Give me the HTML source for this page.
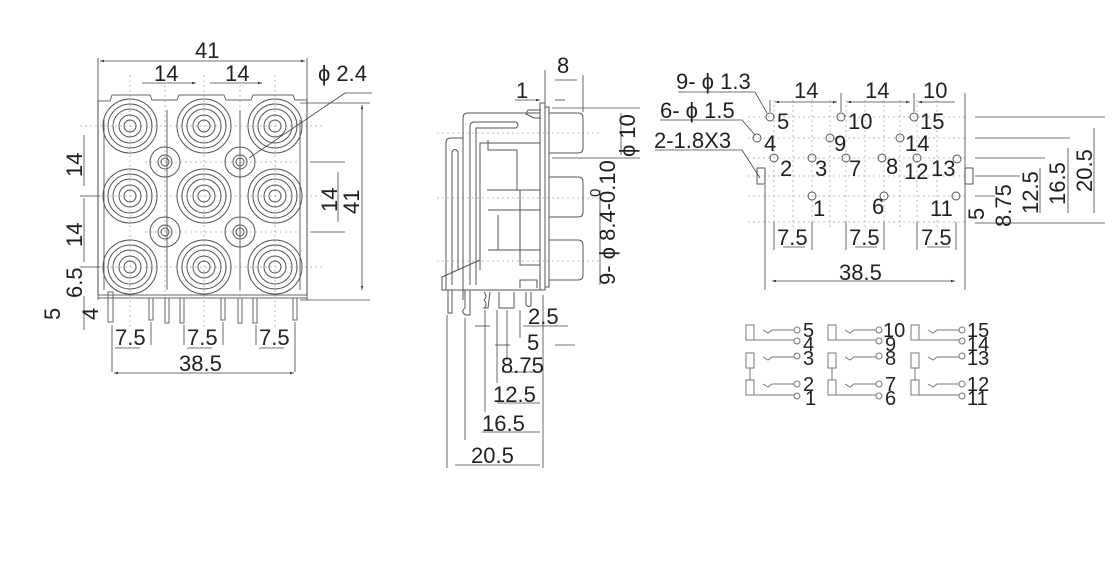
<!DOCTYPE html>
<html><head><meta charset="utf-8"><style>
html,body{margin:0;padding:0;background:#fff;}
svg{display:block}
text{font-family:"Liberation Sans",sans-serif;fill:#231f20;}
</style></head><body>
<svg width="1120" height="582" viewBox="0 0 1120 582" xmlns="http://www.w3.org/2000/svg">
<defs>
<g id="jack" fill="none" stroke="#555" stroke-width="1">
<circle r="27"/><circle r="22"/><circle r="17"/><circle r="11"/><circle r="6"/>
</g>
<g id="sj" fill="none" stroke="#555" stroke-width="1">
<circle r="15"/><circle r="7"/><circle r="4"/>
</g>
<marker id="ar" viewBox="0 0 10 10" refX="10" refY="5" markerWidth="8" markerHeight="5" orient="auto-start-reverse"><path d="M0,2 L10,5 L0,8z" fill="#333"/></marker>
</defs>

<!-- ============ LEFT VIEW ============ -->
<g stroke="#aaa" stroke-width="0.8" stroke-dasharray="2,3" fill="none">
<line x1="80" y1="126" x2="325" y2="126"/><line x1="80" y1="196" x2="325" y2="196"/><line x1="80" y1="267" x2="325" y2="267"/>
<line x1="145" y1="162" x2="300" y2="162"/><line x1="145" y1="232" x2="300" y2="232"/>
<line x1="130" y1="75" x2="130" y2="330"/><line x1="204" y1="75" x2="204" y2="330"/><line x1="275" y1="75" x2="275" y2="330"/>
<line x1="165" y1="85" x2="165" y2="300"/><line x1="240" y1="85" x2="240" y2="300"/>
</g>
<g fill="none" stroke="#666" stroke-width="1">
<path d="M98,101 L110,101 L112,95 L150,95 L152,100 L177,100 L179,95 L224,95 L226,100 L251,100 L253,95 L293,95 L295,100 L307,100 L307,295 L98,295 Z"/>
<path d="M104,120 L104,290 M300,120 L300,290"/>
<line x1="98" y1="298" x2="307" y2="298"/>
<line x1="167" y1="110" x2="167" y2="290"/><line x1="240" y1="110" x2="240" y2="290"/>
</g>
<use href="#jack" x="130" y="126"/><use href="#jack" x="204" y="126"/><use href="#jack" x="275" y="126"/>
<use href="#jack" x="130" y="196"/><use href="#jack" x="204" y="196"/><use href="#jack" x="275" y="196"/>
<use href="#jack" x="130" y="267"/><use href="#jack" x="204" y="267"/><use href="#jack" x="275" y="267"/>
<use href="#sj" x="165" y="162"/><use href="#sj" x="240" y="162"/><use href="#sj" x="165" y="232"/><use href="#sj" x="240" y="232"/>
<g fill="none" stroke="#666" stroke-width="1">
<rect x="108" y="292" width="5" height="30"/><rect x="149" y="298" width="4" height="22"/><rect x="165" y="298" width="4" height="25"/>
<rect x="180" y="298" width="4" height="25"/><rect x="221" y="298" width="4" height="22"/><rect x="238" y="298" width="4" height="25"/>
<rect x="253" y="298" width="4" height="25"/><rect x="293" y="298" width="4" height="22"/>
</g>
<g stroke="#444" stroke-width="0.8" fill="none">
<line x1="98" y1="58" x2="98" y2="300"/><line x1="307" y1="58" x2="307" y2="300"/>
<line x1="100" y1="61" x2="305" y2="61" marker-start="url(#ar)" marker-end="url(#ar)"/>
<line x1="142" y1="83" x2="196" y2="83" marker-end="url(#ar)"/><line x1="210" y1="83" x2="262" y2="83" marker-end="url(#ar)"/>
<line x1="345" y1="93" x2="249" y2="158"/><line x1="345" y1="93" x2="372" y2="93"/>
<line x1="300" y1="103" x2="370" y2="103"/><line x1="300" y1="300" x2="370" y2="300"/>
<line x1="362" y1="105" x2="362" y2="290" marker-start="url(#ar)" marker-end="url(#ar)"/>
<line x1="310" y1="162" x2="345" y2="162"/><line x1="310" y1="232" x2="345" y2="232"/>
<line x1="338" y1="172" x2="338" y2="222"/>
<line x1="84" y1="135" x2="84" y2="186"/><line x1="84" y1="198" x2="84" y2="262"/>
<line x1="80" y1="196" x2="100" y2="196"/><line x1="80" y1="267" x2="100" y2="267"/>
<line x1="84" y1="296" x2="84" y2="330"/>
<line x1="112" y1="325" x2="112" y2="372"/><line x1="151" y1="322" x2="151" y2="345"/>
<line x1="184" y1="325" x2="184" y2="345"/><line x1="223" y1="322" x2="223" y2="345"/>
<line x1="256" y1="325" x2="256" y2="345"/><line x1="295" y1="322" x2="295" y2="372"/>
<line x1="115" y1="348" x2="140" y2="348" /><line x1="187" y1="348" x2="212" y2="348"/><line x1="259" y1="348" x2="284" y2="348"/>
<line x1="114" y1="373" x2="294" y2="373" marker-start="url(#ar)" marker-end="url(#ar)"/>
</g>
<g font-size="22">
<text x="195" y="58">41</text>
<text x="154" y="81">14</text><text x="225" y="81">14</text>
<text x="318" y="81">ϕ 2.4</text>
<text x="115" y="345">7.5</text><text x="187" y="345">7.5</text><text x="259" y="345">7.5</text>
<text x="179" y="371">38.5</text>
<text transform="translate(82,177) rotate(-90)">14</text>
<text transform="translate(82,247) rotate(-90)">14</text>
<text transform="translate(82,298) rotate(-90)">6.5</text>
<text transform="translate(98,320) rotate(-90)">4</text>
<text transform="translate(60,320) rotate(-90)">5</text>
<text transform="translate(337,212) rotate(-90)">14</text>
<text transform="translate(359,214) rotate(-90)">41</text>
</g>

<!-- ============ SIDE VIEW ============ -->
<g stroke="#aaa" stroke-width="0.8" stroke-dasharray="2,3">
<line x1="437" y1="133" x2="600" y2="133"/><line x1="437" y1="198" x2="600" y2="198"/><line x1="437" y1="261" x2="600" y2="261"/>
</g>
<g fill="none" stroke="#555" stroke-width="1">
<rect x="540" y="103" width="5" height="187"/><rect x="545" y="107" width="4" height="180"/>
<path d="M541,110 L528,110 L526,114 L534,118 L541,118"/>
<path d="M446,290 L446,143 Q446,138 451,138 L463,138"/>
<path d="M452,285 L452,152 Q455,147 458,152 L458,270"/>
<path d="M463,300 L463,118 Q463,113 468,113 L540,113"/>
<path d="M470,285 L470,126 Q470,122 475,122 L516,122 Q520,125 516,128 L476,128 L476,285"/>
<path d="M480,270 L480,143 L540,143"/>
<path d="M488,140 L488,150 L517,150 L517,190 L540,190"/>
<path d="M487,190 L520,190 L520,265 L540,265"/>
<path d="M488,210 L540,210 M488,250 L540,250 M498,215 L498,250"/>
<path d="M442,277 L442,290 L540,290 M442,277 L480,260"/>
<path d="M448,290 L448,313 L452,313 L452,290"/>
<path d="M465,290 L465,308 Q460,312 466,315 L470,315 L470,290"/>
<path d="M484,292 Q488,297 484,300 Q488,305 484,308 L488,308 L490,292"/>
<path d="M499,292 L499,308 L514,308 L514,292"/>
<path d="M520,288 L520,280 L537,280 L537,288"/>
<path d="M526,292 L526,305 Q530,308 531,305 L531,292"/>
<path d="M549,113 L578,113 Q583,113 583,118 L583,148 Q583,153 578,153 L549,153"/>
<path d="M549,177 L578,177 Q583,177 583,182 L583,212 Q583,217 578,217 L549,217"/>
<path d="M549,240 L578,240 Q583,240 583,245 L583,275 Q583,280 578,280 L549,280"/>
</g>
<g stroke="#444" stroke-width="0.8" fill="none">
<line x1="545" y1="70" x2="545" y2="103"/><line x1="583" y1="75" x2="583" y2="112"/>
<line x1="555" y1="80" x2="577" y2="80"/>
<line x1="515" y1="100" x2="540" y2="100" marker-end="url(#ar)"/><line x1="555" y1="100" x2="565" y2="100"/>
<line x1="552" y1="108" x2="640" y2="108"/><line x1="552" y1="158" x2="640" y2="158"/>
<line x1="621" y1="113" x2="621" y2="155"/>
<line x1="600" y1="190" x2="600" y2="285"/>
<line x1="447" y1="315" x2="447" y2="468"/><line x1="465" y1="318" x2="465" y2="440"/>
<line x1="485" y1="310" x2="485" y2="412"/><line x1="497" y1="310" x2="497" y2="383"/>
<line x1="507" y1="310" x2="507" y2="360"/><line x1="520" y1="310" x2="520" y2="338"/>
<line x1="543" y1="295" x2="543" y2="468"/>
<line x1="475" y1="326" x2="490" y2="326"/><line x1="523" y1="326" x2="568" y2="326"/>
<line x1="495" y1="345" x2="510" y2="345"/><line x1="555" y1="345" x2="575" y2="345"/>
<line x1="502" y1="372" x2="540" y2="372"/><line x1="497" y1="403" x2="540" y2="403"/>
<line x1="482" y1="432" x2="540" y2="432"/><line x1="455" y1="465" x2="540" y2="465"/>
</g>
<g font-size="22">
<text x="557" y="73">8</text><text x="516" y="98">1</text>
<text x="528" y="324">2.5</text><text x="527" y="350">5</text>
<text x="501" y="373">8.75</text><text x="493" y="402">12.5</text>
<text x="482" y="431">16.5</text><text x="471" y="463">20.5</text>
<text transform="translate(635,157) rotate(-90)">ϕ 10</text>
<text transform="translate(615,285) rotate(-90)">9- ϕ 8.4-0.10</text>
<text font-size="15" transform="translate(600,197) rotate(-90)">0</text>
</g>

<!-- ============ RIGHT VIEW ============ -->
<g stroke="#aaa" stroke-width="0.8" stroke-dasharray="2,3">
<line x1="748" y1="117" x2="965" y2="117"/><line x1="748" y1="138" x2="965" y2="138"/>
<line x1="748" y1="158" x2="965" y2="158"/><line x1="748" y1="176" x2="965" y2="176"/>
<line x1="748" y1="196" x2="965" y2="196"/><line x1="748" y1="222" x2="965" y2="222"/>
<line x1="774" y1="100" x2="774" y2="230"/><line x1="793" y1="100" x2="793" y2="230"/>
<line x1="812" y1="100" x2="812" y2="230"/><line x1="830" y1="100" x2="830" y2="230"/>
<line x1="846" y1="100" x2="846" y2="230"/><line x1="865" y1="100" x2="865" y2="230"/>
<line x1="884" y1="100" x2="884" y2="230"/><line x1="900" y1="100" x2="900" y2="230"/>
<line x1="917" y1="100" x2="917" y2="230"/><line x1="937" y1="100" x2="937" y2="230"/>
</g>
<g fill="none" stroke="#555" stroke-width="1">
<circle cx="770" cy="117" r="4"/><circle cx="841" cy="117" r="4"/><circle cx="914" cy="117" r="4"/>
<circle cx="757" cy="138" r="4"/><circle cx="830" cy="138" r="4"/><circle cx="900" cy="138" r="4"/>
<circle cx="774" cy="158" r="4"/><circle cx="812" cy="158" r="4"/><circle cx="846" cy="158" r="4"/>
<circle cx="882" cy="158" r="4"/><circle cx="917" cy="158" r="4"/><circle cx="957" cy="159" r="4"/>
<circle cx="812" cy="196" r="4"/><circle cx="884" cy="196" r="4"/><circle cx="956" cy="196" r="4"/>
<rect x="757" y="168" width="8" height="16"/><rect x="965" y="168" width="8" height="16"/>
</g>
<g stroke="#444" stroke-width="0.8" fill="none">
<line x1="678" y1="92" x2="755" y2="92"/><line x1="755" y1="92" x2="767" y2="113"/>
<line x1="660" y1="120" x2="742" y2="120"/><line x1="742" y1="120" x2="755" y2="135"/>
<line x1="655" y1="150" x2="742" y2="150"/><line x1="742" y1="150" x2="760" y2="178"/>
<line x1="765" y1="185" x2="765" y2="290"/><line x1="965" y1="93" x2="965" y2="290"/>
<line x1="770" y1="100" x2="770" y2="112"/><line x1="841" y1="93" x2="841" y2="112"/><line x1="914" y1="93" x2="914" y2="112"/>
<line x1="775" y1="102" x2="837" y2="102" marker-start="url(#ar)" marker-end="url(#ar)"/>
<line x1="847" y1="102" x2="910" y2="102" marker-start="url(#ar)" marker-end="url(#ar)"/>
<line x1="918" y1="102" x2="955" y2="102" marker-start="url(#ar)"/>
<line x1="774" y1="222" x2="774" y2="250"/><line x1="812" y1="222" x2="812" y2="250"/>
<line x1="846" y1="222" x2="846" y2="250"/><line x1="884" y1="222" x2="884" y2="250"/>
<line x1="917" y1="222" x2="917" y2="250"/><line x1="956" y1="222" x2="956" y2="250"/>
<line x1="783" y1="247" x2="805" y2="247"/><line x1="855" y1="247" x2="877" y2="247"/><line x1="927" y1="247" x2="950" y2="247"/>
<line x1="772" y1="281" x2="955" y2="281" marker-start="url(#ar)" marker-end="url(#ar)"/>
<line x1="975" y1="117" x2="1105" y2="117"/><line x1="975" y1="138" x2="1070" y2="138"/>
<line x1="975" y1="158" x2="1045" y2="158"/><line x1="975" y1="176" x2="1020" y2="176"/>
<line x1="975" y1="196" x2="995" y2="196"/><line x1="975" y1="223" x2="1105" y2="223"/>
<line x1="1094" y1="128" x2="1094" y2="213"/><line x1="1068" y1="148" x2="1068" y2="213"/>
<line x1="1040" y1="168" x2="1040" y2="213"/>
</g>
<g font-size="22">
<text x="676" y="89">9- ϕ 1.3</text>
<text x="660" y="118">6- ϕ 1.5</text>
<text x="654" y="148">2-1.8X3</text>
<text x="794" y="98">14</text><text x="865" y="98">14</text><text x="923" y="98">10</text>
<text x="777" y="129">5</text><text x="848" y="129">10</text><text x="920" y="129">15</text>
<text x="764" y="151">4</text><text x="834" y="151">9</text><text x="905" y="151">14</text>
<text x="780" y="176">2</text><text x="815" y="176">3</text><text x="849" y="176">7</text>
<text x="886" y="174">8</text><text x="904" y="179">12</text><text x="931" y="176">13</text>
<text x="813" y="216">1</text><text x="872" y="214">6</text><text x="930" y="216">11</text>
<text x="777" y="245">7.5</text><text x="849" y="245">7.5</text><text x="921" y="245">7.5</text>
<text x="839" y="280">38.5</text>
<text transform="translate(984,220) rotate(-90)">5</text>
<text transform="translate(1011,227) rotate(-90)">8.75</text>
<text transform="translate(1038,214) rotate(-90)">12.5</text>
<text transform="translate(1065,205) rotate(-90)">16.5</text>
<text transform="translate(1092,192) rotate(-90)">20.5</text>
</g>

<!-- ============ SCHEMATIC ============ -->
<g fill="none" stroke="#777" stroke-width="1">
<g id="col">
<rect x="746" y="325" width="8" height="15"/><path d="M754,340 L794,340 M763,330 L768,333 L772,330 L794,330"/>
<circle cx="797" cy="330" r="3"/><circle cx="797" cy="341" r="3"/>
<rect x="746" y="353" width="8" height="15"/><path d="M763,357 L768,360 L772,357 L794,357"/><circle cx="797" cy="356" r="3"/>
<line x1="750" y1="368" x2="750" y2="380"/>
<rect x="746" y="380" width="8" height="15"/><path d="M754,395 L794,395 M763,384 L768,387 L772,384 L794,384"/>
<circle cx="797" cy="384" r="3"/><circle cx="797" cy="396" r="3"/>
</g>
<use href="#col" x="82"/><use href="#col" x="165"/>
</g>
<g font-size="20">
<text x="803" y="337">5</text><text x="803" y="351">4</text><text x="803" y="365">3</text>
<text x="803" y="391">2</text><text x="805" y="405">1</text>
<text x="883" y="337">10</text><text x="885" y="351">9</text><text x="885" y="365">8</text>
<text x="885" y="391">7</text><text x="885" y="405">6</text>
<text x="967" y="337">15</text><text x="967" y="351">14</text><text x="967" y="365">13</text>
<text x="967" y="391">12</text><text x="967" y="405">11</text>
</g>
</svg>
</body></html>
